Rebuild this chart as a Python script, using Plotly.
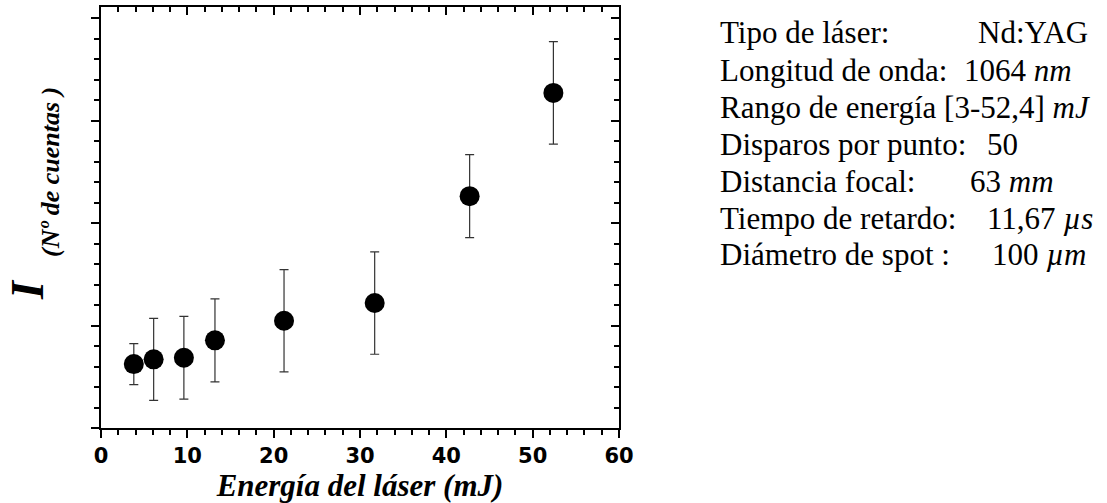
import plotly.graph_objects as go

# Data (intensity in arbitrary counts units)
energia = [3.8, 6.1, 9.6, 13.2, 21.2, 31.7, 42.7, 52.4]
intensidad = [624, 670, 686, 856, 1047, 1220, 2263, 3271]
error = [200, 400, 404, 405, 500, 500, 405, 500]

x_ticks = [0, 10, 20, 30, 40, 50, 60]

info_labels = ["Tipo de láser:", "Longitud de onda:", "Rango de energía [3-52,4] <i>mJ</i>",
               "Disparos por punto:", "Distancia focal:", "Tiempo de retardo:", "Diámetro de spot :"]
info_values = ["Nd:YAG", "1064 <i>nm</i>", "", "50", "63 <i>mm</i>", "11,67 <i>µs</i>", "100 <i>µm</i>"]

W, H = 1107, 503
L, R, T, B = 101, 619, 7, 428


def px_to_paper(px, py):
    return (px - L) / (R - L), (B - py) / (B - T)


fig = go.Figure()
fig.add_trace(go.Scatter(
    x=energia, y=intensidad, mode="markers",
    marker=dict(size=20, color="black", line=dict(width=0)),
    error_y=dict(type="data", array=error, visible=True, color="#333333", thickness=1.2, width=4.5),
    showlegend=False, hoverinfo="skip",
))
# invisible trace to activate the mirrored (top/right) axes
fig.add_trace(go.Scatter(x=[None], y=[None], xaxis="x2", yaxis="y2", showlegend=False))

tickfont = dict(family="DejaVu Sans", size=21, color="black", weight="bold")
serif = "Liberation Serif"

fig.update_layout(
    width=W, height=H,
    margin=dict(l=L, r=W - R, t=T, b=H - B),
    paper_bgcolor="white", plot_bgcolor="white",
    xaxis=dict(
        range=[0, 60], tickvals=x_ticks, ticktext=[str(v) for v in x_ticks],
        showgrid=False, zeroline=False, showline=True, linecolor="black", linewidth=2,
        ticks="outside", ticklen=8, tickwidth=2, tickcolor="black",
        minor=dict(ticks="outside", dtick=2, ticklen=5, tickwidth=1.5, tickcolor="black", showgrid=False),
        tickfont=tickfont,
        title=dict(text="Energía del láser (mJ)",
                   font=dict(family=serif, size=31, color="black", style="italic", weight="bold"),
                   standoff=2),
    ),
    yaxis=dict(
        range=[0, 4110], dtick=1000, tick0=0, showticklabels=False,
        showgrid=False, zeroline=False, showline=True, linecolor="black", linewidth=2,
        ticks="outside", ticklen=8, tickwidth=2, tickcolor="black",
        minor=dict(ticks="outside", dtick=200, ticklen=5, tickwidth=1.5, tickcolor="black", showgrid=False),
    ),
    xaxis2=dict(
        range=[0, 60], overlaying="x", side="top", anchor="y2", tickvals=x_ticks, showticklabels=False,
        showgrid=False, zeroline=False, showline=True, linecolor="black", linewidth=2,
        ticks="inside", ticklen=8, tickwidth=2, tickcolor="black",
        minor=dict(ticks="inside", dtick=2, ticklen=5, tickwidth=1.5, tickcolor="black", showgrid=False),
    ),
    yaxis2=dict(
        range=[0, 4110], overlaying="y", side="right", anchor="x2", dtick=1000, tick0=0, showticklabels=False,
        showgrid=False, zeroline=False, showline=True, linecolor="black", linewidth=2,
        ticks="inside", ticklen=8, tickwidth=2, tickcolor="black",
        minor=dict(ticks="inside", dtick=200, ticklen=5, tickwidth=1.5, tickcolor="black", showgrid=False),
    ),
)

# Y axis title: big "I" with subscript
ix, iy = px_to_paper(27, 290)
fig.add_annotation(x=ix, y=iy, xref="paper", yref="paper", text="I", textangle=-90,
                   showarrow=False, xanchor="center", yanchor="middle",
                   font=dict(family=serif, size=46, color="black", style="italic", weight="bold"))
sx, sy = px_to_paper(50, 172)
fig.add_annotation(x=sx, y=sy, xref="paper", yref="paper", text="(Nº de cuentas )", textangle=-90,
                   showarrow=False, xanchor="center", yanchor="middle",
                   font=dict(family=serif, size=26, color="black", style="italic", weight="bold"))

# Info block on the right: (x position, anchor) for each value
value_pos = [(1090, "right"), (962, "left"), (None, None), (985, "left"),
             (968, "left"), (1095, "right"), (990, "left")]
for i, (lab, val) in enumerate(zip(info_labels, info_values)):
    ypx = 33 + 37 * i
    lx, ly = px_to_paper(718, ypx)
    fig.add_annotation(x=lx, y=ly, xref="paper", yref="paper", text=lab, showarrow=False,
                       xanchor="left", yanchor="middle",
                       font=dict(family=serif, size=31, color="black"))
    if val:
        px_, anchor = value_pos[i]
        vx, vy = px_to_paper(px_, ypx)
        fig.add_annotation(x=vx, y=vy, xref="paper", yref="paper", text=val, showarrow=False,
                           xanchor=anchor, yanchor="middle",
                           font=dict(family=serif, size=31, color="black"))

fig.write_html("out.html")
